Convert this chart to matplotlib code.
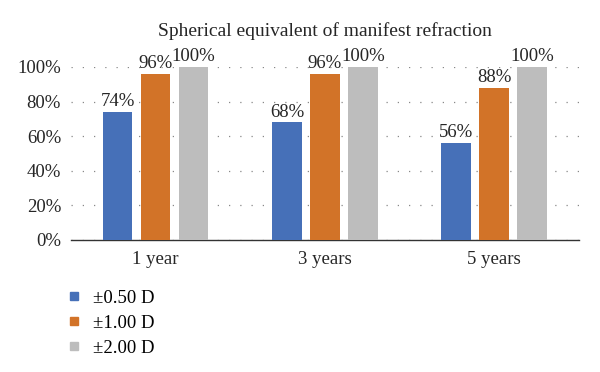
import numpy as np
import matplotlib.pyplot as plt
from matplotlib.lines import Line2D

# data
categories = ['1 year', '3 years', '5 years']
series_names = ['±0.50 D', '±1.00 D', '±2.00 D']
within_050 = [74, 68, 56]
within_100 = [96, 96, 88]
within_200 = [100, 100, 100]
yticks = [0, 20, 40, 60, 80, 100]

colors = ['#4670B8', '#D27328', '#BDBDBD']
text_col = '#262626'

plt.rcParams['font.family'] = ['Liberation Serif', 'DejaVu Serif']

fig = plt.figure(figsize=(6, 3.72), dpi=100)
ax = fig.add_axes([0.118, 0.355, 0.847, 0.465])

x = np.arange(len(categories))
width = 0.176
step = 0.224
all_series = [within_050, within_100, within_200]
for i, (vals, col) in enumerate(zip(all_series, colors)):
    pos = x + (i - 1) * step
    ax.bar(pos, vals, width=width, color=col, zorder=3)
    for p, v in zip(pos, vals):
        ax.text(p, v + 1.0, f'{v}%', ha='center', va='bottom', fontsize=13.5,
                color=text_col, clip_on=False)

ax.set_xlim(-0.5, len(categories) - 0.5)
ax.set_ylim(0, 100)
ax.set_yticks(yticks)
ax.set_yticklabels([f'{t}%' for t in yticks], fontsize=13.5, color=text_col)
ax.set_xticks(x)
ax.set_xticklabels(categories, fontsize=13.5, color=text_col)
ax.tick_params(axis='both', length=0)
ax.tick_params(axis='y', pad=7)
ax.tick_params(axis='x', pad=8)
ax.yaxis.grid(True, linestyle=(0, (1, 8)), color='#888888', linewidth=0.9, zorder=0)
for s in ['top', 'right', 'left']:
    ax.spines[s].set_visible(False)
ax.spines['bottom'].set_color('#333333')
ax.spines['bottom'].set_linewidth(1.0)

ax.set_title('Spherical equivalent of manifest refraction', fontsize=14,
             color=text_col, pad=22)

handles = [Line2D([0], [0], marker='s', linestyle='none', markersize=6,
                  markerfacecolor=c, markeredgecolor=c) for c in colors]
fig.legend(handles, series_names, loc='upper left', bbox_to_anchor=(0.08, 0.266),
           frameon=False, fontsize=13.5, handletextpad=0.5, labelspacing=0.42,
           handlelength=1.0)

fig.savefig('out.png', dpi=100)
